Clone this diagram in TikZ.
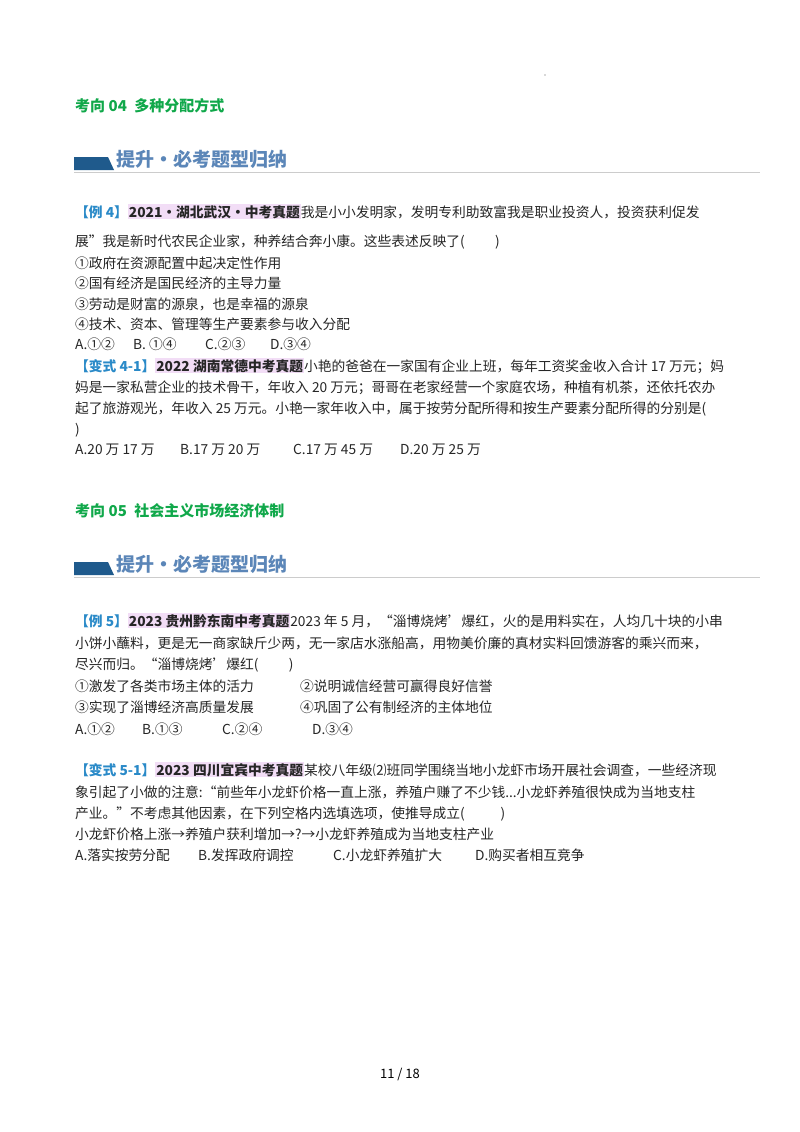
\documentclass[tikz,border=0pt]{standalone}
\usepackage{fontspec}
\setmainfont{Noto Sans CJK SC}
\definecolor{ttl}{HTML}{10A84A}
\definecolor{lab}{HTML}{2A8AC8}
\definecolor{hl}{HTML}{F2DDF6}
\definecolor{ban}{HTML}{1F5A8C}
\definecolor{bant}{HTML}{5B86B8}
\newcommand{\hlx}[1]{{\setlength\fboxsep{1pt}\colorbox{hl}{\textbf{#1}}}}
\newcommand{\labx}[1]{\textcolor{lab}{\textbf{#1}}}
\begin{document}
\begin{tikzpicture}[x=1pt,y=-1pt,
  ln/.style={anchor=base west,inner sep=0pt,font=\fontsize{13.75}{14}\selectfont,text=black!85},
  ttlx/.style={anchor=base west,inner sep=0pt,font=\fontsize{15}{16}\selectfont\bfseries,text=ttl},
  bantxt/.style={anchor=base west,inner sep=0pt,font=\fontsize{19}{20}\selectfont\bfseries,text=bant}]
\useasboundingbox (0,0) rectangle (800,1132);
\fill[white] (0,0) rectangle (800,1132);
\node[inner sep=0.6pt,fill=gray!60,circle] (dot) at (545,75) {};
% section 04
\node[ttlx] (t4) at (75,111) {考向 04\enspace 多种分配方式};
\fill[ban] (74,157) -- (108,157) -- (114,170) -- (74,170) -- cycle;
\draw[gray!40,line width=0.8pt] (74,172) -- (760,172);
\node[bantxt] (b4) at (116,166) {提升·必考题型归纳};
\node[ln] (l1) at (75,217) {\labx{【例 4】}\hlx{2021·湖北武汉·中考真题}我是小小发明家，发明专利助致富我是职业投资人，投资获利促发};
\node[ln] (l2) at (75,246) {展”我是新时代农民企业家，种养结合奔小康。这些表述反映了(\hspace{2.2em})};
\node[ln] (l3) at (75,268) {①政府在资源配置中起决定性作用};
\node[ln] (l4) at (75,288) {②国有经济是国民经济的主导力量};
\node[ln] (l5) at (75,309) {③劳动是财富的源泉，也是幸福的源泉};
\node[ln] (l6) at (75,329) {④技术、资本、管理等生产要素参与收入分配};
\node[ln] (o1) at (75,349) {A.①②};
\node[ln] (o2) at (133,349) {B. ①④};
\node[ln] (o3) at (205,349) {C.②③};
\node[ln] (o4) at (270,349) {D.③④};
\node[ln] (m1) at (75,371) {\labx{【变式 4-1】}\hlx{2022 湖南常德中考真题}小艳的爸爸在一家国有企业上班，每年工资奖金收入合计 17 万元；妈};
\node[ln] (m2) at (75,392) {妈是一家私营企业的技术骨干，年收入 20 万元；哥哥在老家经营一个家庭农场，种植有机茶，还依托农办};
\node[ln] (m3) at (75,413) {起了旅游观光，年收入 25 万元。小艳一家年收入中，属于按劳分配所得和按生产要素分配所得的分别是(};
\node[ln] (m4) at (75,434) {)};
\node[ln] (p1) at (75,454) {A.20 万 17 万};
\node[ln] (p2) at (180,454) {B.17 万 20 万};
\node[ln] (p3) at (293,454) {C.17 万 45 万};
\node[ln] (p4) at (400,454) {D.20 万 25 万};
% section 05
\node[ttlx] (t5) at (75,516) {考向 05\enspace 社会主义市场经济体制};
\fill[ban] (74,562) -- (108,562) -- (114,575) -- (74,575) -- cycle;
\draw[gray!40,line width=0.8pt] (74,577) -- (760,577);
\node[bantxt] (b5) at (116,571) {提升·必考题型归纳};
\node[ln] (e1) at (75,626) {\labx{【例 5】}\hlx{2023 贵州黔东南中考真题}2023 年 5 月，“淄博烧烤’爆红，火的是用料实在，人均几十块的小串};
\node[ln] (e2) at (75,648) {小饼小蘸料，更是无一商家缺斤少两，无一家店水涨船高，用物美价廉的真材实料回馈游客的乘兴而来，};
\node[ln] (e3) at (75,669) {尽兴而归。“淄博烧烤’爆红(\hspace{2.2em})};
\node[ln] (e4) at (75,691) {①激发了各类市场主体的活力};
\node[ln] (e5) at (300,691) {②说明诚信经营可赢得良好信誉};
\node[ln] (e6) at (75,712) {③实现了淄博经济高质量发展};
\node[ln] (e7) at (300,712) {④巩固了公有制经济的主体地位};
\node[ln] (q1) at (75,734) {A.①②};
\node[ln] (q2) at (142,734) {B.①③};
\node[ln] (q3) at (222,734) {C.②④};
\node[ln] (q4) at (312,734) {D.③④};
\node[ln] (v1) at (75,775) {\labx{【变式 5-1】}\hlx{2023 四川宜宾中考真题}某校八年级⑵班同学围绕当地小龙虾市场开展社会调查，一些经济现};
\node[ln] (v2) at (75,797) {象引起了小做的注意:“前些年小龙虾价格一直上涨，养殖户赚了不少钱...小龙虾养殖很快成为当地支柱};
\node[ln] (v3) at (75,818) {产业。”不考虑其他因素，在下列空格内选填选项，使推导成立(\hspace{2.6em})};
\node[ln] (v4) at (75,839) {小龙虾价格上涨→养殖户获利增加→?→小龙虾养殖成为当地支柱产业};
\node[ln] (r1) at (75,860) {A.落实按劳分配};
\node[ln] (r2) at (198,860) {B.发挥政府调控};
\node[ln] (r3) at (333,860) {C.小龙虾养殖扩大};
\node[ln] (r4) at (475,860) {D.购买者相互竞争};
\node[anchor=base,inner sep=0pt,font=\fontsize{13}{14}\selectfont] (pg) at (400,1078) {11 / 18};
\end{tikzpicture}
\end{document}
